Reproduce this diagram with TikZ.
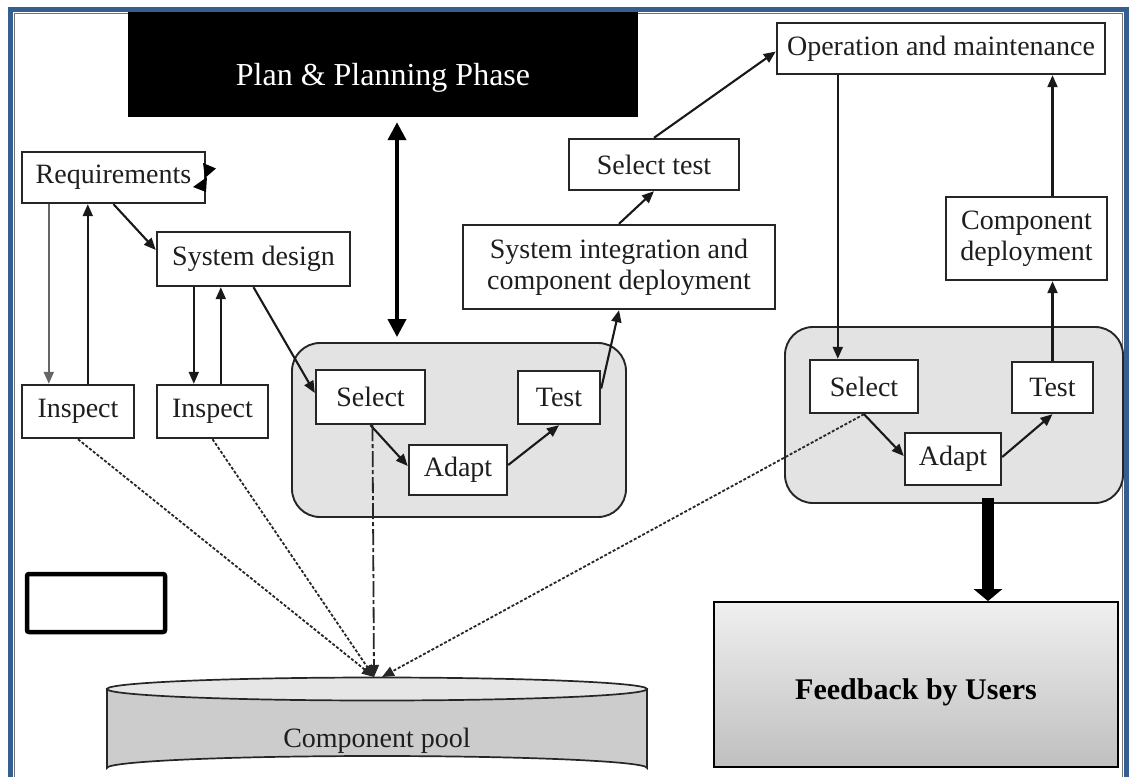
\documentclass[tikz,border=0pt]{standalone}
\usepackage{fontspec}
\setmainfont{Liberation Serif}
\usetikzlibrary{arrows.meta}
\definecolor{framebl}{RGB}{54,95,145}
\definecolor{grpfill}{RGB}{227,227,227}
\definecolor{poolside}{RGB}{204,204,204}
\definecolor{pooltopc}{RGB}{230,230,230}
\definecolor{txtc}{RGB}{30,30,30}
\tikzset{
  box/.style={draw=black!85, line width=2.4pt, fill=white, inner sep=0pt,
    text=txtc, font=\fontsize{28}{31}\selectfont, align=center},
  grp/.style={draw=black!85, line width=1.9pt, fill=grpfill, rounded corners=28pt},
  conn/.style={line width=2.1pt, draw=black!90, -{Triangle[length=12pt,width=10pt]}},
  pooldash/.style={line width=1.8pt, draw=black!85, dash pattern=on 3pt off 1.8pt,
    -{Triangle[length=12pt,width=10pt]}},
  pooldashdot/.style={line width=1.8pt, draw=black!85, dash pattern=on 16pt off 3pt on 4pt off 3pt,
    -{Triangle[length=12pt,width=10pt]}},
  bigdouble/.style={line width=4pt, {Triangle[length=18pt,width=18pt]}-{Triangle[length=18pt,width=18pt]}},
  thickarrow/.style={line width=12pt, -{Triangle[length=12pt,width=28pt]}},
}
\begin{document}
\begin{tikzpicture}[x=1pt,y=-1pt]
\useasboundingbox (0,0) rectangle (1129,776);

% page frame
\draw[black!55, line width=1pt] (14,800) -- (14,13.5) -- (1122,13.5) -- (1122,800);
\draw[framebl, line width=5pt] (10,800) -- (10,9.5) -- (1126.5,9.5) -- (1126.5,800);

% planning phase banner
\node[fill=black, inner sep=0pt, minimum width=510pt, minimum height=105pt,
      text=white, font=\fontsize{32}{36}\selectfont, text height=42pt, text depth=0pt]
  (plan) at (383,64.5) {Plan \& Planning Phase};

% component selection groups
\node[grp, minimum width=334pt, minimum height=174pt] (grp1) at (459,430) {};
\node[grp, minimum width=338pt, minimum height=176pt] (grp2) at (954,415) {};

% process boxes
\node[box, minimum width=183pt, minimum height=51pt] (req) at (113.5,177.5) {Requirements};
\node[box, minimum width=193pt, minimum height=54pt] (sysd) at (253.5,259) {System design};
\node[box, minimum width=112pt, minimum height=53pt] (insp1) at (78,411.5) {Inspect};
\node[box, minimum width=111pt, minimum height=53pt] (insp2) at (212.5,411.5) {Inspect};
\node[box, minimum width=109pt, minimum height=54pt] (sel1) at (370.5,397) {Select};
\node[box, minimum width=98pt, minimum height=50pt] (adp1) at (458,470) {Adapt};
\node[box, minimum width=82pt, minimum height=53pt] (tst1) at (559,397.5) {Test};
\node[box, minimum width=312pt, minimum height=84pt] (sysint) at (619,267)
  {System integration and\\component deployment};
\node[box, minimum width=170pt, minimum height=51pt] (seltest) at (654,164.5) {Select test};
\node[box, minimum width=328pt, minimum height=51pt] (op) at (941,48.5) {Operation and maintenance};
\node[box, minimum width=161pt, minimum height=83pt] (compdep) at (1026.5,238.5) {Component\\deployment};
\node[box, minimum width=108pt, minimum height=53pt] (sel2) at (864,386.5) {Select};
\node[box, minimum width=96pt, minimum height=52pt] (adp2) at (953,459) {Adapt};
\node[box, minimum width=81pt, minimum height=51pt] (tst2) at (1052.5,387.5) {Test};

% empty box
\node[draw=black, line width=4.5pt, rounded corners=2pt, minimum width=138pt,
      minimum height=58pt] (blank) at (96,603) {};

% feedback box
\node[draw=black, line width=1.8pt, top color=gray!12, bottom color=gray!50,
      minimum width=404pt, minimum height=165pt, inner sep=0pt,
      font=\fontsize{30}{34}\selectfont\bfseries, text=black,
      text height=30pt, text depth=0pt]
  (fb) at (916,684.5) {Feedback by Users};

% component pool cylinder
\filldraw[fill=poolside, draw=black!85, line width=1.7pt]
  (107,689) -- (107,768) arc[start angle=180, end angle=360, x radius=270, y radius=12]
  -- (647,689) -- cycle;
\filldraw[fill=pooltopc, draw=black!85, line width=1.7pt]
  (377,689) ellipse[x radius=270, y radius=11.5];
\node[text=txtc, font=\fontsize{28}{31}\selectfont] (pool) at (377,741) {Component pool};
\coordinate (poolL) at (374,677);
\coordinate (poolR) at (382,677);

% odd arrowhead marks next to Requirements
\fill[black] (203,163) -- (216,168.5) -- (205,178) -- cycle;
\fill[black] (207,177) -- (193,187) -- (206,192) -- cycle;

% flow connectors
\draw[conn] (req.south) -- ([yshift=9pt]sysd.west);
\draw[conn, draw=black!60] ([xshift=28pt]req.south west) -- ([xshift=28pt]insp1.north west);
\draw[conn] ([xshift=67pt]insp1.north west) -- ([xshift=67pt]req.south west);
\draw[conn] ([xshift=38pt]sysd.south west) -- ([xshift=38pt]insp2.north west);
\draw[conn] ([xshift=65pt]insp2.north west) -- ([xshift=65pt]sysd.south west);
\draw[conn] (sysd.south) -- ([yshift=4pt]sel1.west);
\draw[conn] (sel1.south) -- ([yshift=4pt]adp1.west);
\draw[conn] ([yshift=5pt]adp1.east) -- (tst1.south);
\draw[conn] ([yshift=9pt]tst1.east) -- (sysint.south);
\draw[conn] (sysint.north) -- (seltest.south);
\draw[conn] (seltest.north) -- ([yshift=-3pt]op.west);
\draw[conn] ([xshift=62pt]op.south west) -- ([xshift=29pt]sel2.north west);
\draw[conn] (sel2.south) -- ([yshift=3pt]adp2.west);
\draw[conn] ([yshift=2pt]adp2.east) -- (tst2.south);
\draw[conn] (tst2.north) -- (tst2.north |- compdep.south);
\draw[conn] (tst2.north |- compdep.north) -- (tst2.north |- op.south);

% planning link and feedback
\draw[bigdouble] ([xshift=14pt,yshift=-5pt]plan.south) -- ([xshift=-62pt,yshift=5pt]grp1.north);
\draw[thickarrow] ([xshift=34pt,yshift=6pt]grp2.south) -- ([xshift=72pt]fb.north);

% links to the component pool
\draw[pooldash] (insp1.south) -- (poolL);
\draw[pooldash] (insp2.south) -- (poolL);
\draw[pooldashdot] ([xshift=2pt]sel1.south) -- (poolL);
\draw[pooldash] (sel2.south) -- (poolR);
\end{tikzpicture}
\end{document}
